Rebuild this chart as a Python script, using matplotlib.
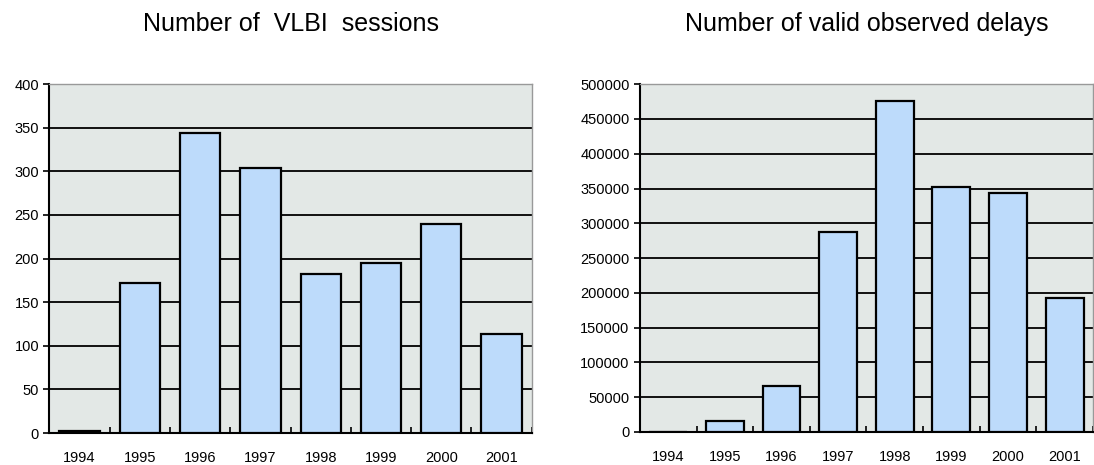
import numpy as np
import matplotlib.pyplot as plt
from matplotlib.ticker import FixedLocator

plt.rcParams["font.family"] = ["Liberation Sans", "DejaVu Sans"]

years = ["1994", "1995", "1996", "1997", "1998", "1999", "2000", "2001"]
sessions = [2, 172, 344, 304, 182, 195, 240, 114]
delays = [0, 16000, 66700, 287600, 475500, 352300, 344200, 193300]

bg = "#e3e8e6"
bar_col = "#bddbfb"


def style_axes(ax, values, ymax, ystep, title):
    x = np.arange(len(years))
    ax.set_facecolor(bg)
    ax.set_axisbelow(True)
    ax.yaxis.grid(True, color="black", lw=1.3)
    ax.bar(x, values, width=0.67, color=bar_col, edgecolor="black", lw=1.6, zorder=3)
    ax.set_xlim(-0.5, len(years) - 0.5)
    ax.set_ylim(0, ymax)
    ax.set_yticks(np.arange(0, ymax + 1, ystep))
    ax.set_xticks(x)
    ax.set_xticklabels(years, fontsize=10.5)
    ax.xaxis.set_minor_locator(FixedLocator(np.arange(0.5, len(years), 1.0)))
    ax.tick_params(axis="x", which="major", length=0, pad=13)
    ax.tick_params(axis="x", which="minor", direction="in", length=4, width=1.2)
    ax.tick_params(axis="y", direction="out", length=4, width=1.2, labelsize=10.5)
    for s in ("top", "right"):
        ax.spines[s].set_color("#999999")
        ax.spines[s].set_linewidth(1.0)
    for s in ("left", "bottom"):
        ax.spines[s].set_color("black")
        ax.spines[s].set_linewidth(1.5)
    ax.set_title(title, fontsize=18, pad=38)


fig = plt.figure(figsize=(10.94, 4.65), dpi=100)
ax1 = fig.add_axes([0.0452, 0.0688, 0.4408, 0.7505])
ax2 = fig.add_axes([0.585, 0.071, 0.414, 0.748])

style_axes(ax1, sessions, 400, 50, "Number of  VLBI  sessions")
style_axes(ax2, delays, 500000, 50000, "Number of valid observed delays")

fig.savefig("out.png", dpi=100)
